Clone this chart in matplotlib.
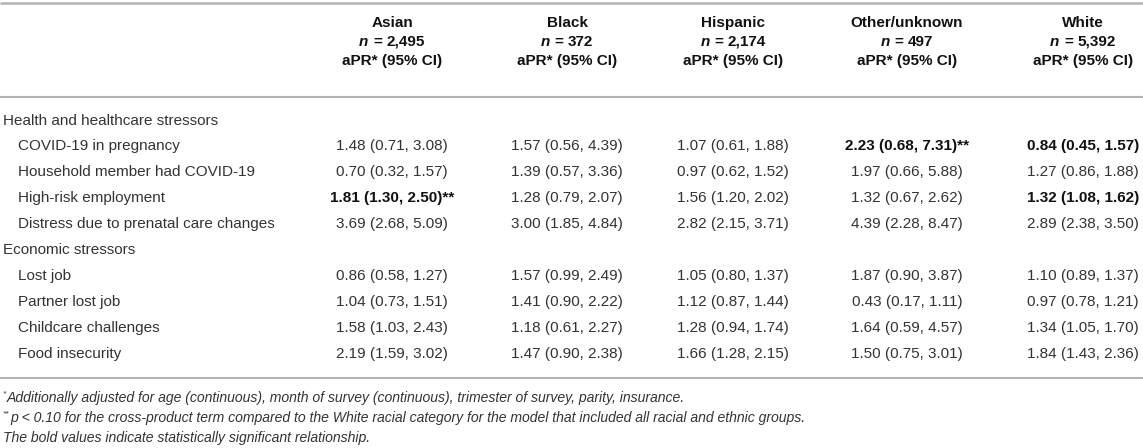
import matplotlib
matplotlib.use("Agg")
import matplotlib.pyplot as plt

plt.rcParams['font.family'] = ['Liberation Sans', 'DejaVu Sans']

groups = ["Asian", "Black", "Hispanic", "Other/unknown", "White"]
group_n = ["2,495", "372", "2,174", "497", "5,392"]

sections = ["Health and healthcare stressors", "Economic stressors"]
section_rows = [
    ["COVID-19 in pregnancy", "Household member had COVID-19",
     "High-risk employment", "Distress due to prenatal care changes"],
    ["Lost job", "Partner lost job", "Childcare challenges", "Food insecurity"],
]

# point estimates per row (order as table rows), columns = groups
apr = [
    [1.48, 1.57, 1.07, 2.23, 0.84],
    [0.70, 1.39, 0.97, 1.97, 1.27],
    [1.81, 1.28, 1.56, 1.32, 1.32],
    [3.69, 3.00, 2.82, 4.39, 2.89],
    [0.86, 1.57, 1.05, 1.87, 1.10],
    [1.04, 1.41, 1.12, 0.43, 0.97],
    [1.58, 1.18, 1.28, 1.64, 1.34],
    [2.19, 1.47, 1.66, 1.50, 1.84],
]
ci_low = [
    [0.71, 0.56, 0.61, 0.68, 0.45],
    [0.32, 0.57, 0.62, 0.66, 0.86],
    [1.30, 0.79, 1.20, 0.67, 1.08],
    [2.68, 1.85, 2.15, 2.28, 2.38],
    [0.58, 0.99, 0.80, 0.90, 0.89],
    [0.73, 0.90, 0.87, 0.17, 0.78],
    [1.03, 0.61, 0.94, 0.59, 1.05],
    [1.59, 0.90, 1.28, 0.75, 1.43],
]
ci_high = [
    [3.08, 4.39, 1.88, 7.31, 1.57],
    [1.57, 3.36, 1.52, 5.88, 1.88],
    [2.50, 2.07, 2.02, 2.62, 1.62],
    [5.09, 4.84, 3.71, 8.47, 3.50],
    [1.27, 2.49, 1.37, 3.87, 1.37],
    [1.51, 2.22, 1.44, 1.11, 1.21],
    [2.43, 2.27, 1.74, 4.57, 1.70],
    [3.02, 2.38, 2.15, 3.01, 2.36],
]
# (row, col) cells shown in bold, and cells with ** marker
bold_cells = [(0, 3), (0, 4), (2, 0), (2, 4)]
star_cells = [(0, 3), (2, 0)]

footnotes = [
    ("*", "Additionally adjusted for age (continuous), month of survey (continuous), trimester of survey, parity, insurance."),
    ("**", "p < 0.10 for the cross-product term compared to the White racial category for the model that included all racial and ethnic groups."),
    ("", "The bold values indicate statistically significant relationship."),
]

W, H = 1143, 448
fig = plt.figure(figsize=(W / 100, H / 100), dpi=100)
ax = fig.add_axes([0, 0, 1, 1])
ax.set_xlim(0, W)
ax.set_ylim(H, 0)
ax.axis("off")

FS = 11.0
FN = 10.1
txt_col = "#333333"
bold_col = "#111111"
line_col = "#b3b3b3"

col_x = [392, 567, 733, 907, 1083]

# lines
ax.plot([0, W], [3, 3], color=line_col, lw=1.8, solid_capstyle="butt")
ax.plot([0, W], [97, 97], color=line_col, lw=1.5, solid_capstyle="butt")
ax.plot([0, W], [378, 378], color=line_col, lw=1.5, solid_capstyle="butt")

fig.canvas.draw()
renderer = fig.canvas.get_renderer()


def width_px(s, **kw):
    t = ax.text(0, 0, s, **kw)
    bb = t.get_window_extent(renderer=renderer)
    t.remove()
    return bb.width


hb = dict(fontsize=FS, fontweight="bold", color=bold_col, va="center", ha="left")
gap = 4.5

# header
for x, g, n in zip(col_x, groups, group_n):
    ax.text(x, 23, g, ha="center", va="center", fontsize=FS, fontweight="bold", color=bold_col)
    w1 = width_px("n", fontsize=FS, fontweight="bold", fontstyle="italic")
    we = width_px("=", fontsize=FS, fontweight="bold")
    wn = width_px(n, fontsize=FS, fontweight="bold")
    total = w1 + gap + we + gap + wn
    x0 = x - total / 2
    ax.text(x0, 42, "n", fontstyle="italic", **hb)
    ax.text(x0 + w1 + gap, 42, "=", **hb)
    ax.text(x0 + w1 + gap + we + gap, 42, n, **hb)
    ax.text(x, 61, "aPR* (95% CI)", ha="center", va="center", fontsize=FS, fontweight="bold", color=bold_col)

# body
y = 121
step = 26.0
r = 0
first = True
for sec, rows in zip(sections, section_rows):
    ax.text(3, y, sec, ha="left", va="center", fontsize=FS, color=txt_col)
    y += 25.0 if first else step
    first = False
    for lab in rows:
        ax.text(18, y, lab, ha="left", va="center", fontsize=FS, color=txt_col)
        for c in range(len(groups)):
            s = f"{apr[r][c]:.2f} ({ci_low[r][c]:.2f}, {ci_high[r][c]:.2f})"
            if (r, c) in star_cells:
                s += "**"
            b = (r, c) in bold_cells
            ax.text(col_x[c], y, s, ha="center", va="center", fontsize=FS,
                    fontweight="bold" if b else "normal",
                    color=bold_col if b else txt_col)
        r += 1
        y += step

# footnotes
fy = [398, 418, 438]
for (mark, note), yy in zip(footnotes, fy):
    x0 = 3
    if mark:
        ax.text(x0, yy - 4, mark, ha="left", va="center", fontsize=FN * 0.6,
                fontstyle="italic", color=txt_col)
        x0 += width_px(mark, fontsize=FN * 0.6, fontstyle="italic") + 0.5
    ax.text(x0, yy, note, ha="left", va="center", fontsize=FN, fontstyle="italic", color=txt_col)

fig.savefig("out.png", dpi=100)
